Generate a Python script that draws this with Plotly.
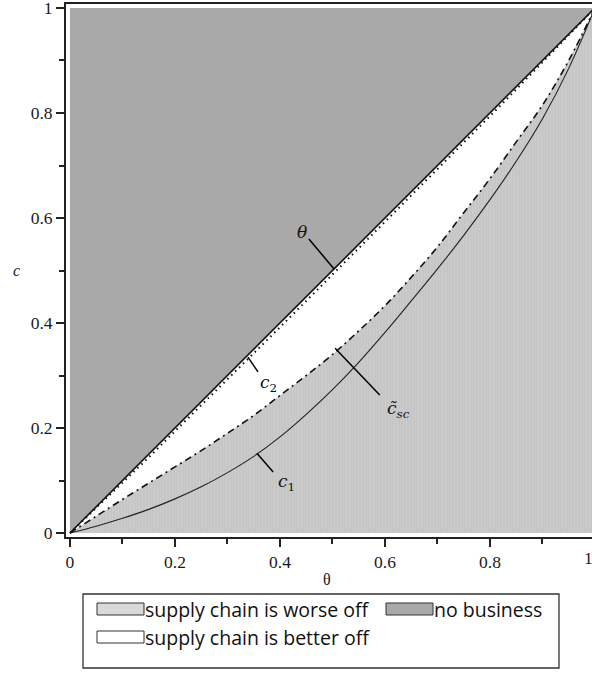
import plotly.graph_objects as go

# theta grid and the boundary curves c(theta)
theta = [0.0, 0.05, 0.1, 0.15, 0.2, 0.25, 0.3, 0.35, 0.4, 0.45, 0.5,
         0.55, 0.6, 0.65, 0.7, 0.75, 0.8, 0.85, 0.9, 0.95, 1.0]
c1 = [0.0, 0.013, 0.028, 0.045, 0.065, 0.088, 0.115, 0.146, 0.183, 0.226, 0.273,
      0.325, 0.382, 0.442, 0.503, 0.567, 0.635, 0.708, 0.789, 0.885, 1.0]
c_sc = [0.0, 0.032, 0.064, 0.095, 0.126, 0.157, 0.19, 0.224, 0.262, 0.3, 0.34,
        0.385, 0.433, 0.487, 0.545, 0.61, 0.675, 0.745, 0.815, 0.9, 1.0]
c2 = [0.0, 0.048, 0.096, 0.144, 0.194, 0.243, 0.293, 0.343, 0.392, 0.442, 0.492,
      0.542, 0.592, 0.643, 0.693, 0.744, 0.794, 0.845, 0.896, 0.948, 1.0]

axis_ticks = [0, 0.2, 0.4, 0.6, 0.8, 1]
minor_ticks = [0.1, 0.3, 0.5, 0.7, 0.9]

legend_items = ["supply chain is worse off", "no business", "supply chain is better off"]

DARK = "#a9a9a9"
LIGHT = "#c6c6c6"
SWATCH_LIGHT = "#d9d9d9"

W, H = 592, 679
L, R, T, B = 66, 0, 4, 142
XR = [-0.0076, 0.9943]
YR = [-0.0076, 1.0076]

def px(x):
    return (x - L) / (W - L - R)

def py(y):
    return (H - B - y) / (H - B - T)

fig = go.Figure()

# region above c = theta: no business
fig.add_trace(go.Scatter(
    x=theta + [0.0], y=theta + [1.0], fill="toself", mode="none",
    fillcolor=DARK, showlegend=False, hoverinfo="skip"))

# region below c~_sc: supply chain is worse off
fig.add_trace(go.Scatter(
    x=theta + [1.0, 0.0], y=c_sc + [0.0, 0.0], fill="toself", mode="none",
    fillcolor=LIGHT,
    fillpattern=dict(shape="|", bgcolor=LIGHT, fgcolor="#d2d2d2", size=3, solidity=0.35),
    showlegend=False, hoverinfo="skip"))

# boundary curves
fig.add_trace(go.Scatter(x=theta, y=c1, mode="lines", line_shape="spline",
                         line=dict(color="#222", width=1.1), showlegend=False))
fig.add_trace(go.Scatter(x=theta, y=c_sc, mode="lines", line_shape="spline",
                         line=dict(color="#111", width=1.6, dash="7px,4px,2px,4px"),
                         showlegend=False))
fig.add_trace(go.Scatter(x=theta, y=c2, mode="lines",
                         line=dict(color="#111", width=2, dash="1.5px,4px"),
                         showlegend=False))
fig.add_trace(go.Scatter(x=theta, y=theta, mode="lines",
                         line=dict(color="#111", width=1.6), showlegend=False))

tick_font = dict(family="Liberation Serif", size=17.5, color="#1a1a1a")

common = dict(tickmode="array", tickvals=axis_ticks,
              ticktext=[f"{v:g}" for v in axis_ticks],
              ticks="outside", ticklen=8,
              tickwidth=1.5, tickcolor="#222", showline=True, linecolor="#222",
              linewidth=2, showgrid=False, zeroline=False, tickfont=tick_font,
              automargin=False, ticklabeloverflow="allow",
              minor=dict(tickmode="array", tickvals=minor_ticks, ticks="outside",
                         ticklen=5, tickwidth=1.5, tickcolor="#222", showgrid=False))
fig.update_xaxes(range=XR, mirror=True, **common)
fig.update_yaxes(range=YR, **common)

annotations = []
# last x tick label sits just past the visible range
x_last = (axis_ticks[-1] - XR[0]) / (XR[1] - XR[0])
annotations.append(dict(x=x_last, y=0, xref="paper", yref="paper", yanchor="top",
                        yshift=-9, text=f"{axis_ticks[-1]:g}", showarrow=False,
                        font=tick_font))
# axis titles
annotations.append(dict(x=px(11), y=py(270), xref="paper", yref="paper",
                        text="<i>c</i>", showarrow=False,
                        font=dict(family="Liberation Serif", size=16, color="#1a1a1a")))
annotations.append(dict(x=px(327), y=py(590), xref="paper", yref="paper",
                        text="θ", showarrow=False,
                        font=dict(family="Liberation Serif", size=16, color="#1a1a1a")))

# curve labels with leader lines (data coordinates)
math_font = dict(family="DejaVu Serif", size=17, color="#111")
labels = [
    ("<i>θ</i>", 0.442, 0.573, (0.455, 0.560), (0.503, 0.503)),
    ("<i>c</i><sub>2</sub>", 0.378, 0.284, (0.339, 0.335), (0.358, 0.307)),
    ("<i>c̃</i><sub><i>sc</i></sub>", 0.625, 0.236, (0.505, 0.352), (0.590, 0.263)),
    ("<i>c</i><sub>1</sub>", 0.412, 0.097, (0.356, 0.152), (0.387, 0.116)),
]
shapes = []
for text, lx, ly, p0, p1 in labels:
    annotations.append(dict(x=lx, y=ly, xref="x", yref="y", text=text,
                            showarrow=False, font=math_font))
    shapes.append(dict(type="line", xref="x", yref="y", x0=p0[0], y0=p0[1],
                       x1=p1[0], y1=p1[1], line=dict(color="#000", width=1.5)))

# legend box
shapes.append(dict(type="rect", xref="paper", yref="paper",
                   x0=px(83), x1=px(559), y0=py(594), y1=py(668),
                   line=dict(color="#333", width=1.3), fillcolor="white"))
legend_rows = [
    (legend_items[0], SWATCH_LIGHT, 97, 609),
    (legend_items[1], DARK, 386, 609),
    (legend_items[2], "white", 97, 637),
]
legend_font = dict(family="Open Sans", size=19.5, color="#111")
for name, col, sx, sy in legend_rows:
    shapes.append(dict(type="rect", xref="paper", yref="paper",
                       x0=px(sx), x1=px(sx + 47), y0=py(sy - 6), y1=py(sy + 6),
                       line=dict(color="#333", width=1), fillcolor=col))
    annotations.append(dict(x=px(sx + 47), y=py(sy), xref="paper", yref="paper",
                            xanchor="left", yanchor="middle", xshift=-1, text=name,
                            showarrow=False, font=legend_font))

fig.update_layout(width=W, height=H, margin=dict(l=L, r=R, t=T, b=B),
                  plot_bgcolor="white", paper_bgcolor="white",
                  annotations=annotations, shapes=shapes, showlegend=False)

fig.write_html("out.html")
